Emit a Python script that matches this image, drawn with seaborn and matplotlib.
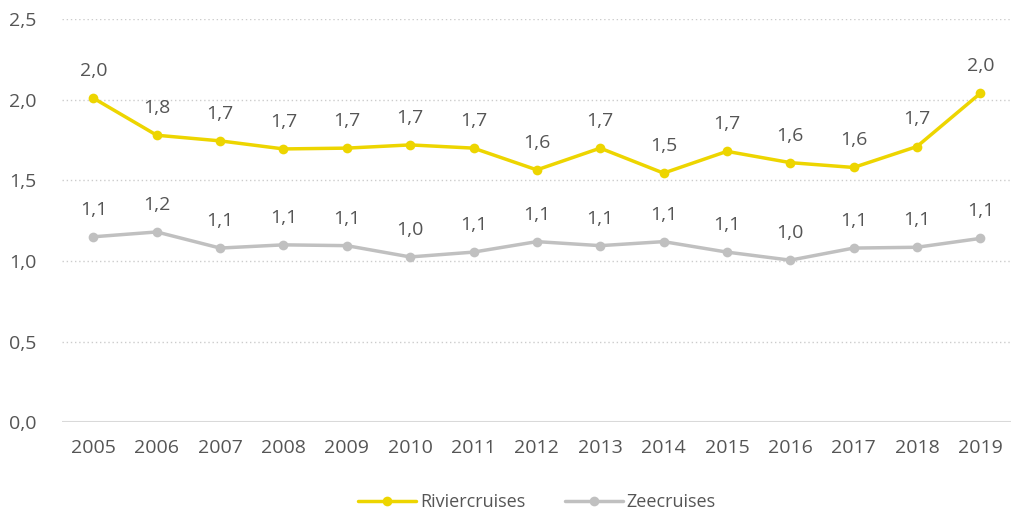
import pandas as pd
import numpy as np
import matplotlib.pyplot as plt
import seaborn as sns

years = [str(y) for y in range(2005, 2020)]
rivier = [2.01, 1.78, 1.745, 1.695, 1.70, 1.72, 1.70, 1.565, 1.70, 1.545, 1.68, 1.61, 1.58, 1.71, 2.04]
zee = [1.15, 1.18, 1.08, 1.10, 1.095, 1.025, 1.055, 1.12, 1.095, 1.12, 1.055, 1.005, 1.08, 1.085, 1.14]

df = pd.DataFrame({'jaar': years * 2,
                   'waarde': rivier + zee,
                   'soort': ['Riviercruises'] * len(years) + ['Zeecruises'] * len(years)})
df['i'] = df.groupby('soort').cumcount()

sns.set_style('white')
plt.rcParams['font.family'] = ['Open Sans', 'DejaVu Sans']
txt = '#555555'

fig = plt.figure(figsize=(10.12, 5.18), dpi=100)
ax = fig.add_axes([0.061, 0.185, 0.939, 0.778])
pal = {'Riviercruises': '#EDD500', 'Zeecruises': '#C0C0C0'}
sns.lineplot(data=df, x='i', y='waarde', hue='soort', palette=pal, marker='o',
             markersize=7, markeredgewidth=0, linewidth=2.5, ax=ax)

for _, r in df.iterrows():
    ax.annotate(f"{r['waarde']:.1f}".replace('.', ','), (r['i'], r['waarde']),
                xytext=(0, 13), textcoords='offset points', ha='center', va='bottom',
                fontsize=14, color=txt)

ax.set_xlim(-0.5, 14.5)
ax.set_ylim(0, 2.5)
ax.set_xticks(range(len(years)), labels=years)
ticks = [0, 0.5, 1.0, 1.5, 2.0, 2.5]
ax.set_yticks(ticks, labels=[f"{t:.1f}".replace('.', ',') for t in ticks])
ax.tick_params(axis='both', labelsize=14, colors=txt, length=0)
ax.tick_params(axis='x', pad=12)
ax.tick_params(axis='y', pad=18)
for t in ticks[1:]:
    ax.axhline(t, color='#CCCCCC', linestyle=(0, (1, 2)), linewidth=1, zorder=0)
ax.axhline(0, color='#D9D9D9', linewidth=1.5, zorder=0)
sns.despine(ax=ax, left=True, bottom=True)
ax.set_xlabel('')
ax.set_ylabel('')

h, l = ax.get_legend_handles_labels()
ax.legend(h, l, loc='upper center', bbox_to_anchor=(0.5, -0.135), ncol=2, frameon=False,
          fontsize=13, labelcolor=txt, handlelength=3.2, columnspacing=2.2, handletextpad=0.2)

plt.savefig('out.png', dpi=100)
